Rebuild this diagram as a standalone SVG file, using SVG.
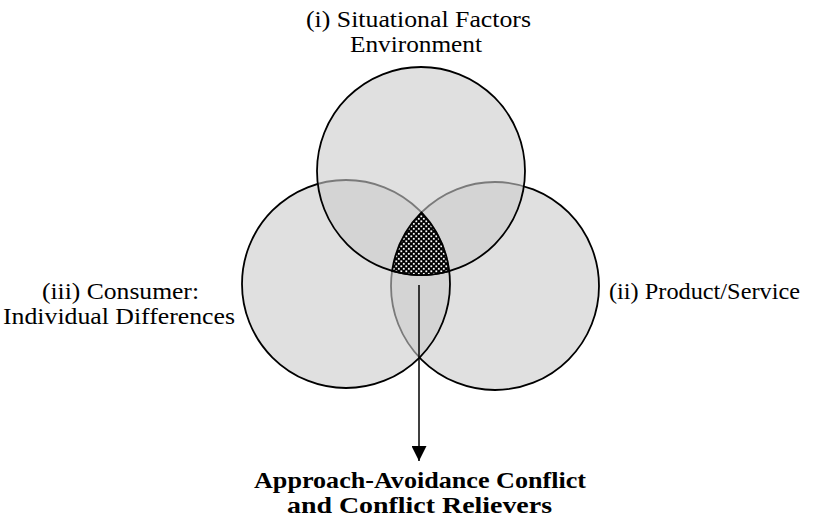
<svg xmlns="http://www.w3.org/2000/svg" width="816" height="522" viewBox="0 0 816 522">
<style>
.c{fill:#cbcbcb;fill-opacity:0.6;stroke:#000;stroke-width:1.8}
.t{font-family:"Liberation Serif","Times New Roman",serif;font-size:23.5px;fill:#000}
.b{font-weight:bold}
</style>
<defs>
<pattern id="hatch" width="5" height="5" patternUnits="userSpaceOnUse">
<rect width="5" height="5" fill="#000"/>
<rect x="0.4" y="0.4" width="1.8" height="1.8" fill="#fff"/>
<rect x="2.9" y="2.9" width="1.8" height="1.8" fill="#fff"/>
</pattern>
<marker id="arr" markerWidth="16" markerHeight="15" refX="15" refY="7.5" orient="auto" markerUnits="userSpaceOnUse">
<path d="M0,0 L15,7.5 L0,15 Z" fill="#000"/>
</marker>
</defs>
<g id="circle-product"><circle class="c" cx="495" cy="286" r="104"/></g>
<g id="circle-consumer"><circle class="c" cx="346" cy="284" r="104"/></g>
<g id="circle-situational"><circle class="c" cx="421" cy="171" r="104"/></g>
<g id="center">
<path d="M421.47,212.45 A104,104 0 0 0 392.1,270.9 A104,104 0 0 0 449.2,271.1 A104,104 0 0 0 421.47,212.45 Z" fill="url(#hatch)" stroke="#000" stroke-width="1.8"/>
</g>
<g id="connectors">
<line x1="419" y1="285" x2="419" y2="461" stroke="#000" stroke-width="1.5" marker-end="url(#arr)"/>
</g>
<g id="label-situational">
<text class="t" x="418.5" y="27" text-anchor="middle" textLength="225" lengthAdjust="spacingAndGlyphs">(i) Situational Factors</text>
<text class="t" x="416" y="52" text-anchor="middle" textLength="132" lengthAdjust="spacingAndGlyphs">Environment</text>
</g>
<g id="label-consumer">
<text class="t" x="120.5" y="299" text-anchor="middle" textLength="157" lengthAdjust="spacingAndGlyphs">(iii) Consumer:</text>
<text class="t" x="119" y="324" text-anchor="middle" textLength="232" lengthAdjust="spacingAndGlyphs">Individual Differences</text>
</g>
<g id="label-product">
<text class="t" x="609" y="299" textLength="191" lengthAdjust="spacingAndGlyphs">(ii) Product/Service</text>
</g>
<g id="label-outcome">
<text class="t b" x="420" y="488" text-anchor="middle" textLength="332" lengthAdjust="spacingAndGlyphs">Approach-Avoidance Conflict</text>
<text class="t b" x="419.5" y="513" text-anchor="middle" textLength="265" lengthAdjust="spacingAndGlyphs">and Conflict Relievers</text>
</g>
</svg>
